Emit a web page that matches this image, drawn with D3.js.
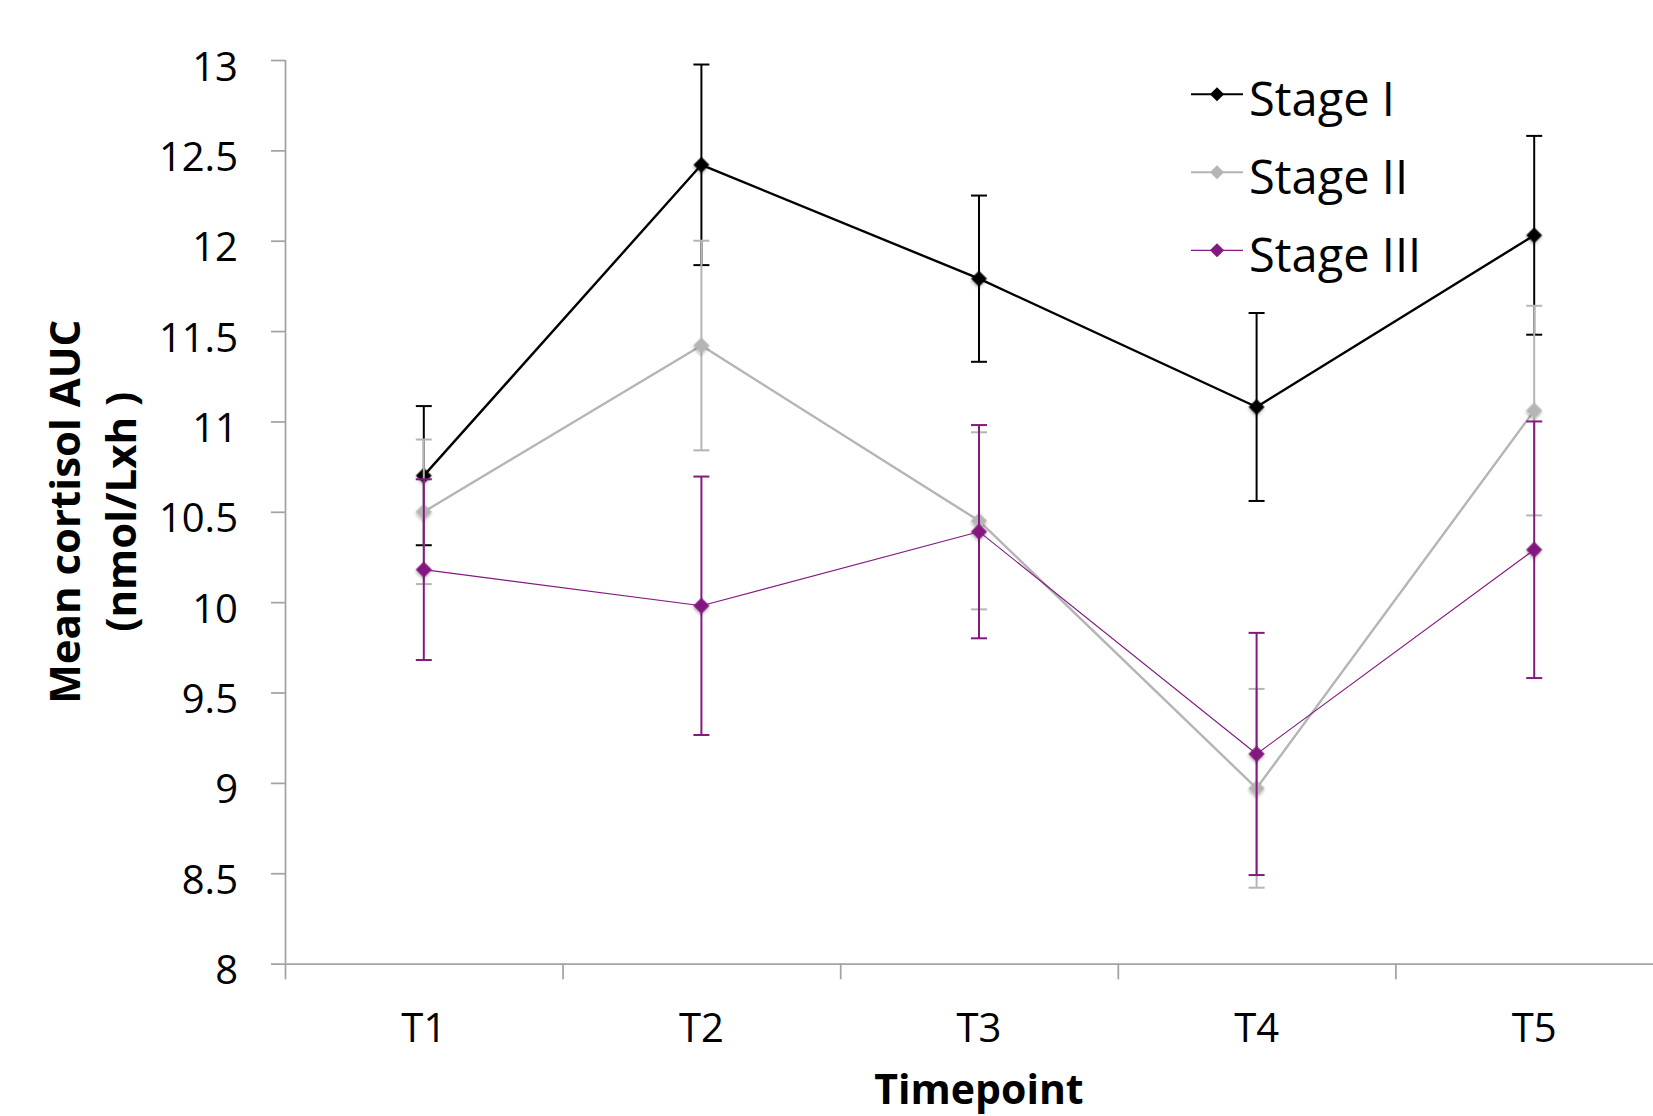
<!DOCTYPE html>
<html>
<head>
<meta charset="utf-8">
<script src="https://cdn.jsdelivr.net/npm/d3@7"></script>
<style>
  html, body { margin: 0; padding: 0; background: #fff; }
  svg { display: block; }
  text { font-family: "Open Sans", "Noto Sans", sans-serif; fill: #000; }
</style>
</head>
<body>
<svg id="chart" width="1653" height="1116"></svg>
<script>
// ---- data ----
const categories = ["T1", "T2", "T3", "T4", "T5"];
const seriesNames = ["Stage I", "Stage II", "Stage III"];
const stageI = [10.70, 12.42, 11.79, 11.08, 12.03];
const stageIErr = [0.385, 0.555, 0.46, 0.52, 0.55];
const stageII = [10.50, 11.42, 10.45, 8.97, 11.06];
const stageIIErr = [0.40, 0.58, 0.49, 0.55, 0.58];
const stageIII = [10.18, 9.98, 10.39, 9.16, 10.29];
const stageIIIErr = [0.50, 0.715, 0.59, 0.67, 0.71];
const yTicks = [8, 8.5, 9, 9.5, 10, 10.5, 11, 11.5, 12, 12.5, 13];
const yTitleLines = ["Mean cortisol AUC", "(nmol/Lxh )"];
const xTitle = "Timepoint";

(function () {
// ---- styles ----
const styles = [
  { color: "#000000", lineWidth: 2.4, errWidth: 2, marker: 125 },
  { color: "#b5b5b5", lineWidth: 2.4, errWidth: 2, marker: 130 },
  { color: "#84197f", lineWidth: 1.1, errWidth: 2, marker: 130 }
];
const series = [
  { name: seriesNames[0], values: stageI, errs: stageIErr },
  { name: seriesNames[1], values: stageII, errs: stageIIErr },
  { name: seriesNames[2], values: stageIII, errs: stageIIIErr }
];

const svg = d3.select("#chart");
const pLeft = 285, pRight = 1673, pTop = 60, pBottom = 963.6;
const axisColor = "#a3a3a3";

const defs = svg.append("defs");
const f = defs.append("filter").attr("id", "shadow")
  .attr("x", "-50%").attr("y", "-50%").attr("width", "200%").attr("height", "200%");
f.append("feDropShadow").attr("dx", 1).attr("dy", 1.5)
  .attr("stdDeviation", 1.6).attr("flood-color", "#000").attr("flood-opacity", 0.3);

const x = d3.scaleBand().domain(categories).range([pLeft, pRight]);
const xEdges = d3.scaleLinear().domain([0, categories.length]).range([pLeft, pRight]);
const y = d3.scaleLinear().domain([8, 13]).range([pBottom, pTop]);
const cx = d => x(d) + x.bandwidth() / 2;

// y axis
const yAxis = svg.append("g").attr("transform", `translate(${pLeft},0)`)
  .call(d3.axisLeft(y).tickValues(yTicks).tickFormat(d => String(d)).tickSize(14).tickPadding(33));
yAxis.select(".domain").attr("stroke", axisColor).attr("stroke-width", 1.75)
  .attr("d", `M0.5,${pTop}V${pBottom}`);
yAxis.selectAll(".tick line").attr("stroke", axisColor).attr("stroke-width", 1.75);
yAxis.selectAll(".tick text").attr("font-size", 40).attr("dy", "0.5em")
  .attr("font-family", "'Open Sans', sans-serif").attr("fill", "#000");

// x axis: boundary ticks
const xAxisTicks = svg.append("g").attr("transform", `translate(0,${pBottom})`)
  .call(d3.axisBottom(xEdges).ticks(categories.length).tickFormat("").tickSize(15.7));
xAxisTicks.select(".domain").attr("stroke", axisColor).attr("stroke-width", 1.75)
  .attr("d", `M${pLeft},0.5H${pRight}`);
xAxisTicks.selectAll(".tick line").attr("stroke", axisColor).attr("stroke-width", 1.75);

// x axis labels (centered in bands)
const xAxisLabels = svg.append("g").attr("transform", `translate(0,${pBottom})`)
  .call(d3.axisBottom(x).tickSize(0).tickPadding(0));
xAxisLabels.select(".domain").remove();
xAxisLabels.selectAll(".tick text").attr("font-size", 40).attr("dy", 78.5)
  .attr("font-family", "'Open Sans', sans-serif").attr("fill", "#000");

// axis titles
svg.append("text").attr("x", (pLeft + pRight) / 2).attr("y", 1104)
  .attr("text-anchor", "middle").attr("font-size", 41).attr("font-weight", "bold")
  .text(xTitle);
const yMid = (pTop + pBottom) / 2;
yTitleLines.forEach((t, i) => {
  svg.append("text")
    .attr("transform", `translate(${80 + i * 56},${yMid}) rotate(-90)`)
    .attr("text-anchor", "middle").attr("font-size", 42).attr("font-weight", "bold")
    .text(t);
});

// series
const line = d3.line().x((d, i) => cx(categories[i])).y(d => y(d));
const diamond = size => d3.symbol().type(d3.symbolSquare).size(size)();
series.forEach((s, si) => {
  const st = styles[si];
  const g = svg.append("g");
  // error bars
  const eb = g.selectAll(".eb").data(s.values).join("g")
    .attr("stroke", st.color).attr("stroke-width", st.errWidth).attr("fill", "none");
  eb.append("line")
    .attr("x1", (d, i) => cx(categories[i])).attr("x2", (d, i) => cx(categories[i]))
    .attr("y1", (d, i) => y(d + s.errs[i])).attr("y2", (d, i) => y(d - s.errs[i]));
  eb.append("line")
    .attr("x1", (d, i) => cx(categories[i]) - 8).attr("x2", (d, i) => cx(categories[i]) + 8)
    .attr("y1", (d, i) => y(d + s.errs[i])).attr("y2", (d, i) => y(d + s.errs[i]));
  eb.append("line")
    .attr("x1", (d, i) => cx(categories[i]) - 8).attr("x2", (d, i) => cx(categories[i]) + 8)
    .attr("y1", (d, i) => y(d - s.errs[i])).attr("y2", (d, i) => y(d - s.errs[i]));
  // line
  g.append("path").datum(s.values).attr("d", line)
    .attr("fill", "none").attr("stroke", st.color).attr("stroke-width", st.lineWidth)
    .attr("stroke-linejoin", "round");
  // markers
  g.selectAll(".mk").data(s.values).join("path")
    .attr("d", diamond(st.marker))
    .attr("transform", (d, i) => `translate(${cx(categories[i])},${y(d)}) rotate(45)`)
    .attr("fill", st.color).attr("filter", "url(#shadow)");
});

// legend
const legend = svg.append("g");
series.forEach((s, si) => {
  const st = styles[si];
  const ly = 94.3 + si * 78;
  const lg = legend.append("g").attr("transform", `translate(1191,${ly})`);
  lg.append("line").attr("x1", 0).attr("x2", 52).attr("y1", 0).attr("y2", 0)
    .attr("stroke", st.color).attr("stroke-width", si === 2 ? 1.2 : 2);
  lg.append("path").attr("d", diamond(100)).attr("transform", "translate(26,0) rotate(45)")
    .attr("fill", st.color);
  lg.append("text").attr("x", 58).attr("y", 21.5).attr("font-size", 47).text(s.name);
});
})();
</script>
</body>
</html>
